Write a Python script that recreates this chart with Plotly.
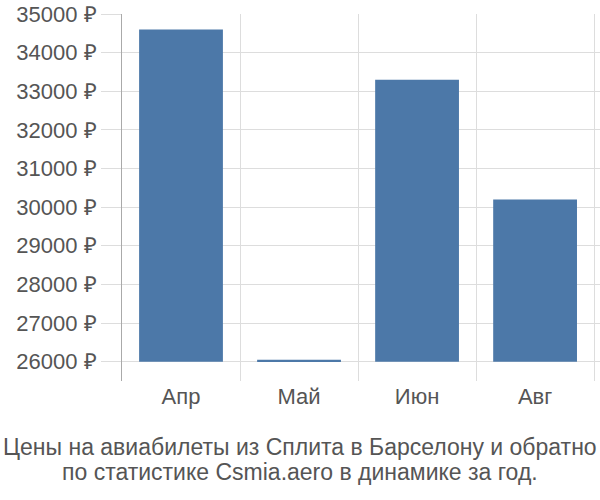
import plotly.graph_objects as go

months = ["Апр", "Май", "Июн", "Авг"]
prices = [34600, 26050, 33300, 30200]
base_price = 26000
y_ticks = [26000, 27000, 28000, 29000, 30000, 31000, 32000, 33000, 34000, 35000]
title_lines = ["Цены на авиабилеты из Сплита в Барселону и обратно",
               "по статистике Csmia.aero в динамике за год."]

fig = go.Figure(go.Bar(
    x=months,
    y=[p - base_price for p in prices],
    base=base_price,
    marker=dict(color="#4c78a8", line=dict(width=0)),
    width=0.71,
))

fig.update_layout(
    width=600, height=500,
    margin=dict(l=122, r=0, t=14, b=119),
    paper_bgcolor="white", plot_bgcolor="white",
    showlegend=False,
    font=dict(family="Liberation Sans, Arial, sans-serif", color="#555555", size=22),
)
fig.update_xaxes(
    type="category",
    range=[-0.5, 3.55],
    tickson="boundaries",
    showgrid=True, gridcolor="#dddddd", gridwidth=1,
    showline=False, zeroline=False,
    ticks="", tickfont=dict(size=22, color="#555555"),
)
fig.update_yaxes(
    range=[25500, 35000],
    tickvals=y_ticks,
    ticktext=[f"{v} ₽" for v in y_ticks],
    showgrid=True, gridcolor="#dddddd", gridwidth=1,
    showline=True, linecolor="#aaaaaa", linewidth=1,
    zeroline=False,
    ticks="outside", ticklen=20, tickcolor="#dddddd",
    tickfont=dict(size=22, color="#555555"),
)
for i, line in enumerate(title_lines):
    fig.add_annotation(
        text=line, xref="paper", yref="paper",
        x=(300 - 122) / 478, y=(381 - (447 + 25 * i)) / 367,
        xanchor="center", yanchor="middle",
        showarrow=False, font=dict(size=23, color="#555555"),
    )

fig.write_html("out.html")
